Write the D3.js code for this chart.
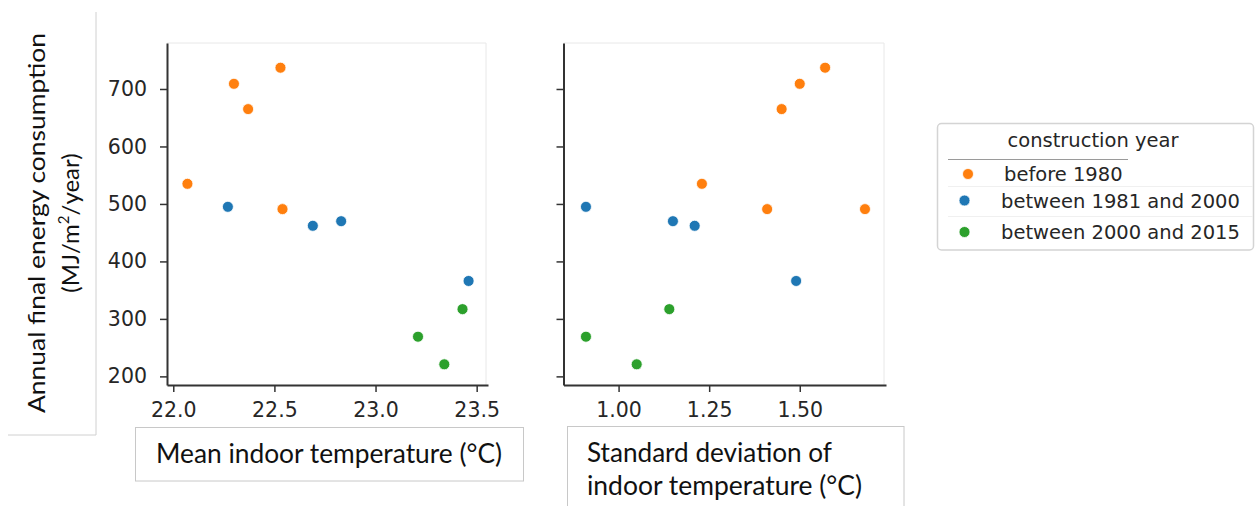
<!DOCTYPE html>
<html>
<head>
<meta charset="utf-8">
<script src="https://cdn.jsdelivr.net/npm/d3@7.9.0/dist/d3.min.js"></script>
<style>
  body { margin: 0; background: #fff; }
  svg { display: block; }
  .tick text { font-family: "DejaVu Sans", sans-serif; font-size: 20.5px; fill: #262626; }
  .box-label { font-family: Lato, "Open Sans", sans-serif; fill: #111; }
</style>
</head>
<body>
<svg id="chart" width="1257" height="506"></svg>
<script>
// one entry per building
const groups = ['before 1980', 'between 1981 and 2000', 'between 2000 and 2015'];
const groupColors = ['#ff7f0e', '#1f77b4', '#2ca02c'];
const energy   = [737, 709, 665, 535, 491, 491, 495, 462, 470, 366, 269, 221, 317];
const meanTemp = [22.53, 22.30, 22.37, 22.07, 22.54, 22.54, 22.27, 22.69, 22.83, 23.46, 23.21, 23.34, 23.43];
const stdTemp  = [1.57, 1.50, 1.45, 1.23, 1.41, 1.68, 0.91, 1.21, 1.15, 1.49, 0.91, 1.05, 1.14];
const groupIdx = [0, 0, 0, 0, 0, 0, 1, 1, 1, 1, 2, 2, 2];

const yTicks = [200, 300, 400, 500, 600, 700];
const meanTicks = [22.0, 22.5, 23.0, 23.5];
const stdTicks = [1.00, 1.25, 1.50];

const buildings = energy.map((e, i) => ({
  energy: e, mean: meanTemp[i], std: stdTemp[i], group: groupIdx[i]
}));

const svg = d3.select('#chart');

const y = d3.scaleLinear().domain([185, 780]).range([385, 43]);

const panels = [
  { key: 'mean', x: d3.scaleLinear().domain([21.969, 23.556]).range([167, 488]),
    ticks: meanTicks, fmt: d3.format('.1f'), showY: true },
  { key: 'std', x: d3.scaleLinear().domain([0.848, 1.738]).range([563.5, 886]),
    ticks: stdTicks, fmt: d3.format('.2f'), showY: false }
];

panels.forEach(p => {
  const [x0, x1] = p.x.range();
  const g = svg.append('g');

  // faint frame left over from the pasted plot image
  g.append('path')
    .attr('d', `M${x0},43H${x1 - 2}V385`)
    .attr('fill', 'none')
    .attr('stroke', '#e8e8e8')
    .attr('stroke-width', 1);

  const yAxis = g.append('g')
    .attr('transform', `translate(${x0},0)`)
    .call(d3.axisLeft(y).tickValues(yTicks).tickSize(7).tickSizeOuter(0).tickPadding(13)
      .tickFormat(p.showY ? d3.format('d') : ''));
  const xAxis = g.append('g')
    .attr('transform', 'translate(0,385)')
    .call(d3.axisBottom(p.x).tickValues(p.ticks).tickSize(7).tickSizeOuter(0).tickPadding(10)
      .tickFormat(p.fmt));

  [yAxis, xAxis].forEach(a => {
    a.select('.domain').attr('stroke', '#333').attr('stroke-width', 2);
    a.selectAll('.tick line').attr('stroke', '#333').attr('stroke-width', 1.5);
  });

  g.selectAll('circle')
    .data(buildings)
    .join('circle')
    .attr('cx', d => p.x(d[p.key]))
    .attr('cy', d => y(d.energy))
    .attr('r', 5.5)
    .attr('fill', d => groupColors[d.group])
    .attr('stroke', '#fff')
    .attr('stroke-width', 0.8);
});

// y label text box
svg.append('path')
  .attr('d', 'M96,12V435H8')
  .attr('fill', 'none')
  .attr('stroke', '#d0d0d0');

const yLabel = svg.append('g').attr('transform', 'translate(0,223) rotate(-90)');
yLabel.append('text')
  .attr('class', 'box-label')
  .attr('x', 0).attr('y', 45)
  .attr('text-anchor', 'middle')
  .attr('font-size', 24)
  .attr('textLength', 380)
  .attr('lengthAdjust', 'spacingAndGlyphs')
  .text('Annual final energy consumption');
const unit = yLabel.append('text')
  .attr('class', 'box-label')
  .attr('x', 0).attr('y', 79)
  .attr('text-anchor', 'middle')
  .attr('font-size', 24);
unit.append('tspan').text('(MJ/m');
unit.append('tspan').attr('font-size', 15).attr('dy', -10).text('2');
unit.append('tspan').attr('dy', 10).text('/year)');

// x label text boxes
svg.append('rect')
  .attr('x', 135.5).attr('y', 427.5).attr('width', 388).attr('height', 53.5)
  .attr('fill', 'none').attr('stroke', '#c8c8c8');
svg.append('text')
  .attr('class', 'box-label')
  .attr('x', 156).attr('y', 463)
  .attr('font-size', 26)
  .attr('textLength', 346)
  .attr('lengthAdjust', 'spacingAndGlyphs')
  .text('Mean indoor temperature (°C)');

svg.append('rect')
  .attr('x', 567.5).attr('y', 426.5).attr('width', 336.5).attr('height', 100)
  .attr('fill', 'none').attr('stroke', '#c8c8c8');
svg.append('text')
  .attr('class', 'box-label')
  .attr('x', 587).attr('y', 462)
  .attr('font-size', 26)
  .attr('textLength', 245)
  .attr('lengthAdjust', 'spacingAndGlyphs')
  .text('Standard deviation of');
svg.append('text')
  .attr('class', 'box-label')
  .attr('x', 587).attr('y', 495)
  .attr('font-size', 26)
  .attr('textLength', 275)
  .attr('lengthAdjust', 'spacingAndGlyphs')
  .text('indoor temperature (°C)');

// legend
const legend = svg.append('g');
legend.append('rect')
  .attr('x', 937.5).attr('y', 123.5).attr('width', 316).attr('height', 126.5).attr('rx', 4)
  .attr('fill', '#fff').attr('stroke', '#d4d4d4').attr('stroke-width', 1.5);
legend.append('text')
  .attr('x', 1093).attr('y', 147)
  .attr('text-anchor', 'middle')
  .attr('font-family', '"DejaVu Sans", sans-serif')
  .attr('font-size', 19.5)
  .attr('fill', '#262626')
  .text('construction year');

// pasted patch over the first entry
legend.append('path')
  .attr('d', 'M948,186.5H1253M948,216.5H1253')
  .attr('stroke', '#f0f0f0');
legend.append('line')
  .attr('x1', 948).attr('x2', 1128).attr('y1', 159.5).attr('y2', 159.5)
  .attr('stroke', '#9a9a9a');

const entryY = [174, 200.5, 232];
const entryX = [968, 964.5, 964.5];
const labelX = [1004, 1001, 1001];
groups.forEach((name, i) => {
  legend.append('circle')
    .attr('cx', entryX[i]).attr('cy', entryY[i]).attr('r', 5.5)
    .attr('fill', groupColors[i]).attr('stroke', '#fff').attr('stroke-width', 0.8);
  legend.append('text')
    .attr('x', labelX[i]).attr('y', entryY[i])
    .attr('dy', '0.36em')
    .attr('font-family', '"DejaVu Sans", sans-serif')
    .attr('font-size', 19.5)
    .attr('fill', '#262626')
    .text(name);
});
</script>
</body>
</html>
